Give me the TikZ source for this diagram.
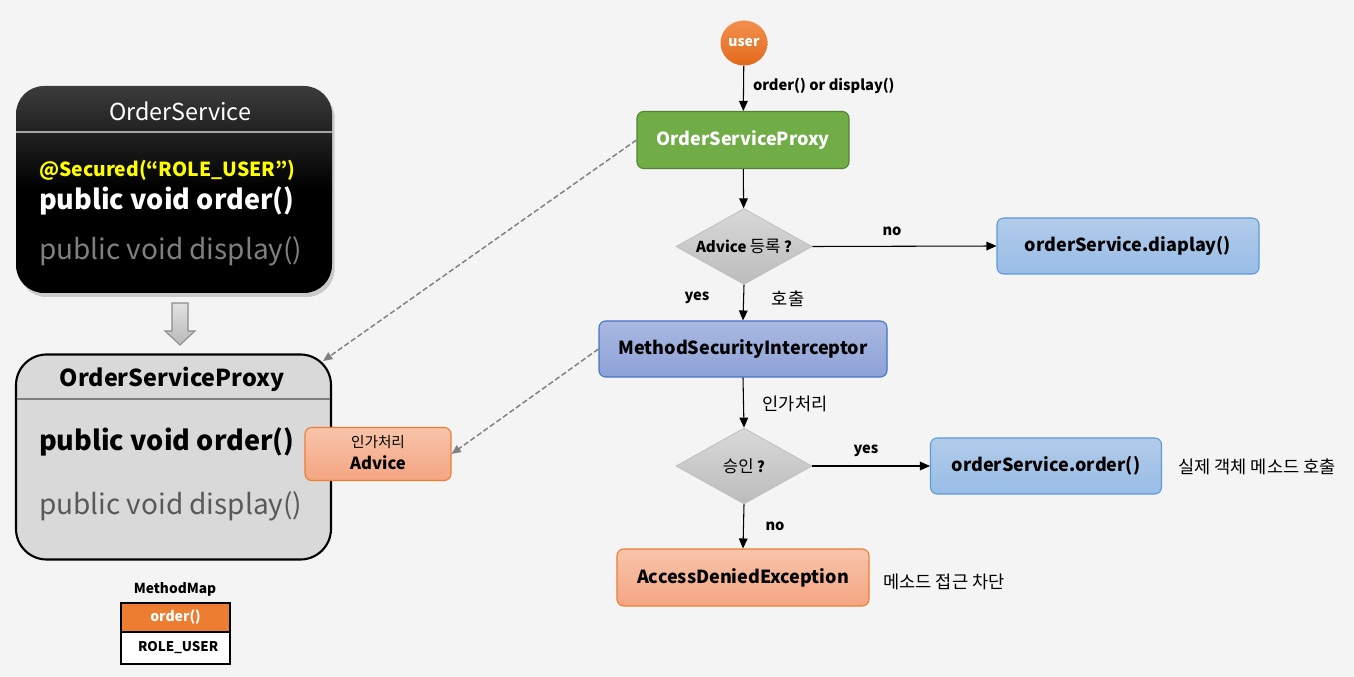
\documentclass[tikz,border=0pt]{standalone}
\usepackage{fontspec}
\setmainfont{Noto Sans CJK KR}
\usetikzlibrary{shapes.geometric,arrows.meta,shadows}
\definecolor{bg}{HTML}{F4F4F4}
\definecolor{osTop}{HTML}{3C3C3C}
\definecolor{divA}{HTML}{A6A6A6}
\definecolor{divB}{HTML}{7F7F7F}
\definecolor{secYellow}{HTML}{FFFF00}
\definecolor{dispGray}{HTML}{7F7F7F}
\definecolor{dispGrayB}{HTML}{595959}
\definecolor{proxyFill}{HTML}{D9D9D9}
\definecolor{orTop}{HTML}{F8C4AA}
\definecolor{orBot}{HTML}{F4A582}
\definecolor{orLine}{HTML}{ED7D31}
\definecolor{mmOrange}{HTML}{ED7D31}
\definecolor{usTop}{HTML}{F39050}
\definecolor{usBot}{HTML}{E2691A}
\definecolor{grFill}{HTML}{70AD47}
\definecolor{grLine}{HTML}{548235}
\definecolor{dmTop}{HTML}{D8D8D8}
\definecolor{dmBot}{HTML}{BCBCBC}
\definecolor{dmLine}{HTML}{BFBFBF}
\definecolor{lbTop}{HTML}{B2CBEA}
\definecolor{lbBot}{HTML}{98BDE6}
\definecolor{lbLine}{HTML}{5B9BD5}
\definecolor{msTop}{HTML}{AAB8E2}
\definecolor{msBot}{HTML}{8CA2D6}
\definecolor{msLine}{HTML}{4472C4}
\definecolor{baTop}{HTML}{E2E2E2}
\definecolor{baBot}{HTML}{B8B8B8}
\definecolor{baLine}{HTML}{8C8C8C}
\definecolor{dashGray}{HTML}{808080}
\newcommand{\kbig}{\fontsize{12.5pt}{14pt}\selectfont}
\begin{document}
\begin{tikzpicture}[x=0.75pt,y=-0.75pt,
  txt/.style={inner sep=0pt, outer sep=0pt},
  fbox/.style={rounded corners=5pt, line width=0.8pt, inner sep=0pt, align=center,
     font=\fontsize{13.5pt}{16pt}\selectfont\bfseries},
  greenbox/.style={fbox, fill=grFill, draw=grLine, text=white},
  bluebox/.style={fbox, top color=lbTop, bottom color=lbBot, draw=lbLine},
  msibox/.style={fbox, top color=msTop, bottom color=msBot, draw=msLine},
  orangebox/.style={fbox, top color=orTop, bottom color=orBot, draw=orLine},
  decide/.style={shape=diamond, top color=dmTop, bottom color=dmBot, draw=dmLine,
     line width=0.6pt, inner sep=0pt, aspect=1.8,
     minimum width=136*0.75pt, minimum height=76*0.75pt,
     font=\fontsize{11.3pt}{12pt}\selectfont},
  flow/.style={-{Triangle[length=7.5pt,width=6.5pt]}, line width=0.8pt, black},
  dashflow/.style={-{Triangle[length=7pt,width=6pt]}, dashed, dash pattern=on 4pt off 2pt,
     line width=1.1pt, dashGray},
  lbl/.style={txt, font=\fontsize{11pt}{12pt}\selectfont\bfseries},
  klbl/.style={txt, font=\fontsize{13.2pt}{15pt}\selectfont},
  bigcode/.style={txt, anchor=west, font=\fontsize{21pt}{24pt}\selectfont}
]
\useasboundingbox (0,0) rectangle (1354,677);
\fill[bg] (0,0) rectangle (1354,677);

% ---------- OrderService (black) ----------
\node[rounded corners=21pt, top color=osTop, bottom color=black, middle color=black,
      minimum width=316*0.75pt, minimum height=207*0.75pt, inner sep=0pt,
      drop shadow={opacity=0.35, shadow xshift=2pt, shadow yshift=-3pt}]
      (os) at (174,189.5) {};
\draw[divA, line width=0.8pt] (16,132) -- (332,132);
\node[txt, text=white, font=\fontsize{17.5pt}{20pt}\selectfont] (ostitle) at (180,111) {OrderService};
\node[txt, anchor=west, text=secYellow, font=\fontsize{14.5pt}{18pt}\selectfont\bfseries] (ossec) at (39,170) {@Secured(“ROLE\_USER”)};
\node[bigcode, text=white, font=\fontsize{20.3pt}{24pt}\selectfont\bfseries] (osorder) at (39,201) {public void order()};
\node[bigcode, text=dispGray] (osdisp) at (39,251) {public void display()};

% ---------- block arrow ----------
\draw[baLine, line width=0.8pt, top color=baTop, bottom color=baBot]
  (172,303) -- (188,303) -- (188,331) -- (195,331) -- (180,345) -- (165,331) -- (172,331) -- cycle;

% ---------- OrderServiceProxy (gray) ----------
\node[rounded corners=23pt, fill=proxyFill, draw=black, line width=1.6pt,
      minimum width=315*0.75pt, minimum height=205*0.75pt, inner sep=0pt]
      (px) at (173.5,457) {};
\draw[divB, line width=0.8pt] (17,399) -- (330,399);
\node[txt, font=\fontsize{17.5pt}{20pt}\selectfont\bfseries] (pxtitle) at (172,379) {OrderServiceProxy};
\node[bigcode, font=\fontsize{20.3pt}{24pt}\selectfont\bfseries] (pxorder) at (39,442) {public void order()};
\node[bigcode, text=dispGrayB] (pxdisp) at (39,506) {public void display()};
\coordinate (pxtip) at (323,361);

% Advice box
\node[rounded corners=5pt, top color=orTop, bottom color=orBot, draw=orLine, line width=0.8pt,
      minimum width=146*0.75pt, minimum height=53*0.75pt, inner sep=0pt]
      (adv) at (378,454) {};
\node[txt, font=\fontsize{11pt}{12pt}\selectfont] (advk) at (378,442) {인가처리};
\node[txt, font=\fontsize{12.5pt}{14pt}\selectfont\bfseries] (advt) at (378,463) {Advice};

% MethodMap
\node[txt, font=\fontsize{10.3pt}{11pt}\selectfont\bfseries] (mmt) at (175,589) {MethodMap};
\node[fill=mmOrange, draw=black, line width=1.5pt, minimum width=109*0.75pt, minimum height=29*0.75pt,
      inner sep=0pt, text=white, font=\fontsize{10.5pt}{12pt}\selectfont\bfseries] (mm1) at (175.5,617.5) {order()};
\node[fill=white, draw=black, line width=1.5pt, minimum width=109*0.75pt, minimum height=32*0.75pt,
      inner sep=0pt, font=\fontsize{10pt}{12pt}\selectfont\bfseries] (mm2) at (175.5,648) {\hspace*{4pt}ROLE\_USER};

% ---------- right flow ----------
\node[ellipse, top color=usTop, bottom color=usBot, draw=none, minimum width=47*0.75pt,
      minimum height=45*0.75pt, inner sep=0pt, text=white,
      font=\fontsize{10.5pt}{12pt}\selectfont\bfseries] (user) at (744,43) {user};
\node[greenbox, minimum width=212*0.75pt, minimum height=57*0.75pt] (gosp) at (743,140) {OrderServiceProxy};
\node[decide] (d1) at (744,246.5) {\textbf{Advice} {\kbig 등록} \textbf{?}};
\node[bluebox, minimum width=262*0.75pt, minimum height=56*0.75pt] (disp) at (1128,246) {orderService.diaplay()};
\node[msibox, minimum width=288*0.75pt, minimum height=56*0.75pt] (msi) at (743,349) {MethodSecurityInterceptor};
\node[decide] (d2) at (744,466) {{\kbig 승인} \textbf{?}};
\node[bluebox, minimum width=231*0.75pt, minimum height=56*0.75pt] (ord) at (1046,466) {orderService.order()};
\node[orangebox, minimum width=252*0.75pt, minimum height=57*0.75pt] (ade) at (743,577.5) {AccessDeniedException};

\draw[flow] (user) -- (gosp);
\draw[flow] (gosp) -- (d1);
\draw[flow] (d1.east) -- (disp.west);
\draw[flow] (d1.south) -- (msi.north);
\draw[flow] (msi.south) -- (d2.north);
\draw[flow] (d2.east) -- (ord.west);
\draw[flow] (d2.south) -- (ade.north);

\draw[dashflow] (gosp.west) -- (pxtip);
\draw[dashflow] (msi.west) -- (adv.east);

% labels
\node[lbl, anchor=west] (l1) at (753,86) {order() or display()};
\node[lbl] (l2) at (892,231) {no};
\node[lbl] (l3) at (697,298) {yes};
\node[klbl] (l4) at (788,299) {호출};
\node[klbl] (l5) at (795,404) {인가처리};
\node[lbl] (l6) at (866,451) {yes};
\node[lbl] (l7) at (775,526) {no};
\node[klbl] (l8) at (1257,467) {실제 객체 메소드 호출};
\node[klbl] (l9) at (944,582) {메소드 접근 차단};
\end{tikzpicture}
\end{document}
